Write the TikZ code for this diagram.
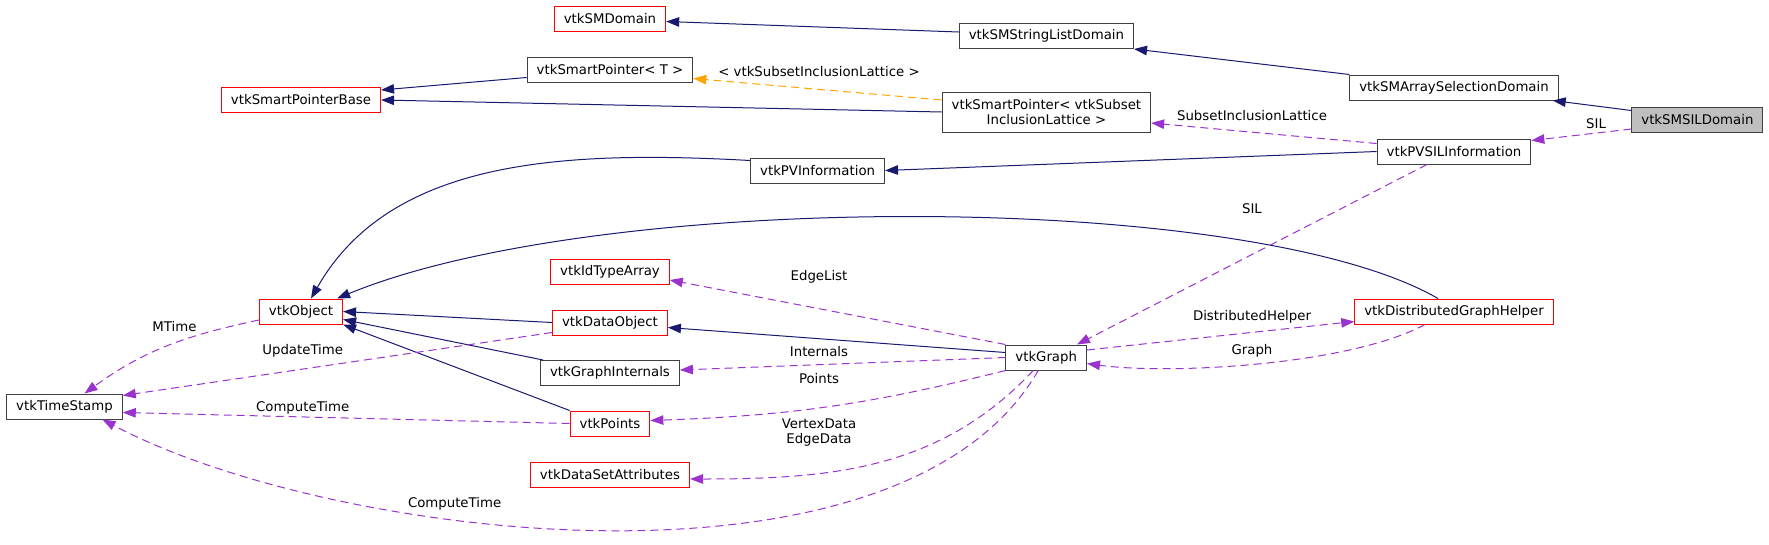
\documentclass[tikz,border=0pt]{standalone}
\usepackage{fontspec}
\setmainfont{DejaVu Sans}
\usetikzlibrary{arrows.meta}
\definecolor{edgeblue}{HTML}{191970}
\definecolor{edgeviolet}{HTML}{9A32CD}
\definecolor{edgeorange}{HTML}{FFA500}
\definecolor{boxred}{HTML}{FF0000}
\definecolor{boxgrey}{HTML}{BFBFBF}
\definecolor{boxline}{HTML}{404040}
\newcommand{\dgfont}{\fontsize{13.3}{15}\selectfont}
\tikzset{
  cls/.style={draw=boxline,fill=white,font=\dgfont,line width=1pt,inner xsep=9.5pt,inner ysep=2pt,
    minimum height=25pt,align=center},
  undoc/.style={cls,draw=boxred},
  focus/.style={cls,fill=boxgrey},
  inherit/.style={-{Triangle[length=13pt,width=9.5pt]},line width=1pt,color=edgeblue},
  usage/.style={-{Triangle[length=13pt,width=9.5pt]},line width=1pt,color=edgeviolet,dash pattern=on 8pt off 5pt},
  tmpl/.style={usage,color=edgeorange},
  lbl/.style={font=\dgfont,align=center,inner sep=0pt},
}

\begin{document}
\begin{tikzpicture}[x=1pt,y=-1pt]
  \useasboundingbox (0,0) rectangle (1769,544);
  % column 1-2: time stamp, base classes
  \node[cls] (timestamp) at (64.5,406.5) {vtkTimeStamp};
  \node[undoc] (smbase) at (301,100) {vtkSmartPointerBase};
  \node[undoc] (object) at (301,311.5) {vtkObject};
  % column 3
  \node[undoc] (smdomain) at (610,18.5) {vtkSMDomain};
  \node[cls] (sptrT) at (610,69.5) {vtkSmartPointer< T >};
  \node[undoc] (idarray) at (610,272) {vtkIdTypeArray};
  \node[undoc] (dataobj) at (610,322.5) {vtkDataObject};
  \node[cls] (graphint) at (610,373) {vtkGraphInternals};
  \node[undoc] (points) at (610,423.5) {vtkPoints};
  \node[undoc] (dsattr) at (610,474.5) {vtkDataSetAttributes};
  \node[cls] (pvinfo) at (817.6,170.5) {vtkPVInformation};
  % column 5
  \node[cls] (smstring) at (1046.4,36) {vtkSMStringListDomain};
  \node[cls,minimum height=40pt] (sptrSIL) at (1046.4,112) {vtkSmartPointer< vtkSubset\\InclusionLattice >};
  \node[cls] (graph) at (1046.2,357.5) {vtkGraph};
  % column 7-8
  \node[cls] (smarray) at (1454,87.5) {vtkSMArraySelectionDomain};
  \node[cls] (pvsil) at (1454,151.5) {vtkPVSILInformation};
  \node[undoc] (dgh) at (1454,311.5) {vtkDistributedGraphHelper};
  \node[focus] (smsil) at (1697.4,119.5) {vtkSMSILDomain};
  % inheritance
  \foreach \a/\b in {smarray.north west/smstring.south east,sptrSIL.west/smbase.east,pvsil.west/pvinfo.east,dataobj.west/object.east,points.north west/object.south east}
    \draw[inherit] (\a) -- (\b);
  \draw[inherit] ([yshift=4pt]smstring.west) -- ([yshift=-3pt]smdomain.east);
  \draw[inherit] ([yshift=9pt]smsil.west) -- ([xshift=-6pt]smarray.south east);
  \draw[inherit] ([yshift=-8pt]sptrT.west) -- ([yshift=10pt]smbase.east);
  \draw[inherit] ([xshift=3pt]graphint.north west) -- ([yshift=-8pt]object.east);
  \draw[inherit] ([yshift=5pt]graph.west) -- ([yshift=-5pt]dataobj.east);
  \draw[inherit] ([yshift=-3pt]pvinfo.north west) .. controls (560,150) and (390,160) .. ([xshift=10pt]object.north);
  \draw[inherit] ([xshift=-16pt]dgh.north) .. controls (1250,190) and (600,190) .. ([xshift=-6pt]object.north east);
  % template instance
  \draw[tmpl] ([yshift=12pt]sptrSIL.west) -- ([yshift=-9pt]sptrT.east);
  % members
  \draw[usage] ([yshift=-9.5pt]smsil.west) -- ([yshift=-2pt]pvsil.north east);
  \draw[usage] ([yshift=-5pt]pvsil.north west) -- ([yshift=-11pt]sptrSIL.east);
  \draw[usage] ([xshift=-27pt]pvsil.south) -- ([xshift=-10pt]graph.north east);
  \draw[usage] ([yshift=-8.5pt]object.west) to[out=192,in=36] ([xshift=20pt]timestamp.north);
  \draw[usage] ([yshift=3pt]dataobj.south west) -- ([yshift=-2pt]timestamp.north east);
  \draw[usage] (points.west) -- ([yshift=-6pt]timestamp.east);
  \draw[usage] ([xshift=-8pt]graph.south) .. controls (900,610) and (330,540) .. ([xshift=38pt]timestamp.south);
  \draw[usage] (graph.north west) -- ([yshift=-8pt]idarray.east);
  \draw[usage] (graph.west) -- ([yshift=3pt]graphint.east);
  \draw[usage] (graph.south west) to[bend left=6] ([yshift=3pt]points.east);
  \draw[usage] ([xshift=-13pt]graph.south) .. controls (940,470) and (830,479) .. ([yshift=-4.5pt]dsattr.east);
  \draw[usage] ([yshift=7.5pt]graph.east) -- ([yshift=-10pt]dgh.west);
  \draw[usage] ([xshift=-29pt]dgh.south) .. controls (1350,365) and (1170,375) .. ([yshift=-6pt]graph.east);
  % edge labels
  \node[lbl] (lbltmpl) at (819,72) {< vtkSubsetInclusionLattice >};
  \node[lbl] (lblsil) at (1596,124) {SIL};
  \node[lbl] (lbllattice) at (1252,116) {SubsetInclusionLattice};
  \node[lbl] (lblsilgraph) at (1252,209) {SIL};
  \node[lbl] (lblmtime) at (174.5,327) {MTime};
  \node[lbl] (lblupdate) at (302.7,351) {UpdateTime};
  \node[lbl] (lblcompute) at (302.7,408) {ComputeTime};
  \node[lbl] (lblcomputeg) at (454.6,504) {ComputeTime};
  \node[lbl] (lbledges) at (819,277) {EdgeList};
  \node[lbl] (lblinternals) at (819,352) {Internals};
  \node[lbl] (lblpoints) at (819,379) {Points};
  \node[lbl] (lbldata) at (819,432.5) {VertexData\\EdgeData};
  \node[lbl] (lblhelper) at (1252,317) {DistributedHelper};
  \node[lbl] (lblgraph) at (1252,351) {Graph};
\end{tikzpicture}
\end{document}
